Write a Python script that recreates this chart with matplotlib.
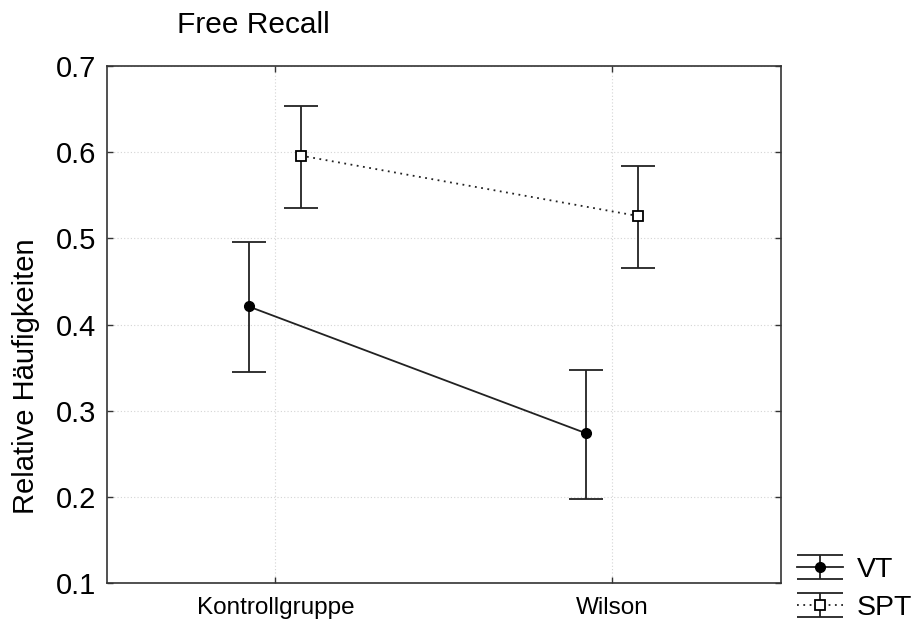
import matplotlib.pyplot as plt
from matplotlib.legend_handler import HandlerErrorbar

plt.rcParams["font.family"] = ["Liberation Sans", "DejaVu Sans"]

groups = ["Kontrollgruppe", "Wilson"]

vt_mean = [0.421, 0.274]
vt_low = [0.345, 0.197]
vt_high = [0.496, 0.347]

spt_mean = [0.596, 0.526]
spt_low = [0.535, 0.466]
spt_high = [0.654, 0.584]

y_ticks = [0.1, 0.2, 0.3, 0.4, 0.5, 0.6, 0.7]


class WideCaps(HandlerErrorbar):
    # stretch the caps across the whole legend handle
    def create_artists(self, *args, **kwargs):
        artists = super().create_artists(*args, **kwargs)
        for a in artists:
            if hasattr(a, "get_marker") and a.get_marker() == "_":
                a.set_markersize(33)
        return artists


fig = plt.figure(figsize=(9.19, 6.21), dpi=100)
ax = fig.add_axes([0.1164, 0.0612, 0.7334, 0.8325])

x = list(range(len(groups)))
x_vt = [i - 0.08 for i in x]
x_spt = [i + 0.075 for i in x]

err = lambda m, lo, hi: [[a - b for a, b in zip(m, lo)], [c - a for a, c in zip(m, hi)]]

vt = ax.errorbar(x_vt, vt_mean, yerr=err(vt_mean, vt_low, vt_high),
                 color="#222222", lw=1.3, ls="-", marker="o", ms=7,
                 mfc="black", mec="black", capsize=12, capthick=1.3,
                 elinewidth=1.3, label="VT", zorder=3)
spt = ax.errorbar(x_spt, spt_mean, yerr=err(spt_mean, spt_low, spt_high),
                  color="#222222", lw=1.3, ls=(0, (1, 2.5)), marker="s", ms=7,
                  mfc="white", mec="black", mew=1.3, capsize=12, capthick=1.3,
                  elinewidth=1.3, label="SPT", zorder=3)

ax.set_xlim(-0.5, 1.5)
ax.set_ylim(0.1, 0.7)
ax.set_xticks(x)
ax.set_xticklabels(groups, fontsize=17.5)
ax.set_yticks(y_ticks)
ax.set_yticklabels([f"{v:.1f}" for v in y_ticks], fontsize=21)
ax.tick_params(direction="in", length=4, width=1, color="#333333",
               top=True, right=True, pad=8)
ax.tick_params(axis="x", pad=10)
ax.grid(True, ls=(0, (1, 2)), color="#d4d4d4", lw=0.8)
for s in ax.spines.values():
    s.set_color("#333333")
    s.set_linewidth(1.2)

ax.set_ylabel("Relative Häufigkeiten", fontsize=21)
ax.yaxis.set_label_coords(-0.099, 0.4)
fig.text(253 / 919, 1 - 25 / 621, "Free Recall", fontsize=21.5,
         ha="center", va="center")

fig.legend(handles=[vt, spt], labels=["VT", "SPT"],
           handler_map={type(vt): WideCaps(yerr_size=0.43)},
           loc="center left", bbox_to_anchor=(797 / 919, 1 - 589 / 621),
           frameon=False, fontsize=20.5, handlelength=1.6, handletextpad=0.5,
           labelspacing=0.42, borderpad=0, borderaxespad=0)

fig.savefig("out.png", dpi=100)
